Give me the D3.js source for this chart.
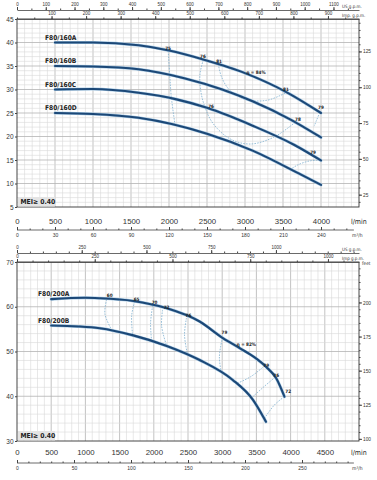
<!DOCTYPE html>
<html>
<head>
<meta charset="utf-8">
<script src="https://cdn.jsdelivr.net/npm/d3@7"></script>
<style>
  body { margin: 0; background: #fff; }
  svg { display: block; font-family: "Liberation Sans Narrow", "DejaVu Sans", sans-serif; font-stretch: condensed; }
  .axis text { fill: #333; }
  .axis path, .axis line { stroke: #444; }
</style>
</head>
<body>
<script>
// ---- F80/160 (upper chart), flow in l/min, head in m
const q160A = [500, 1000, 1600, 2000, 2450, 2950, 3550, 4000];
const h160A = [40.0, 40.0, 39.4, 38.3, 36.4, 33.8, 29.4, 25.0];
const q160B = [500, 1000, 1600, 2200, 2700, 3100, 3600, 4000];
const h160B = [35.0, 34.9, 34.3, 32.4, 30.0, 27.5, 23.6, 19.8];
const q160C = [500, 1000, 1600, 2100, 2500, 3100, 3650, 4000];
const h160C = [30.0, 30.1, 29.3, 27.9, 26.1, 22.3, 18.2, 14.9];
const q160D = [500, 1000, 1600, 2500, 3100, 3700, 4000];
const h160D = [25.0, 24.8, 24.0, 20.6, 17.0, 12.2, 9.7];
const names160 = ["F80/160A", "F80/160B", "F80/160C", "F80/160D"];

// efficiency iso-lines [l/min, m]
const eff160_75 = [[1990, 38.2], [2010, 33.0], [2030, 28.5], [2080, 22.4]];
const eff160_76 = [[2451, 36.3], [2408, 33.3], [2417, 29.8], [2474, 26.2], [2583, 22.7], [2803, 19.5], [3066, 18.4], [3372, 19.8], [3636, 22.7], [3688, 23.4]];
const eff160_81 = [[2649, 35.4], [2693, 32.6], [2803, 29.8], [3022, 27.8], [3286, 27.7], [3461, 28.7], [3549, 29.4]];
const eff160_79a = [[3985, 25.1], [3940, 23.4], [3910, 22.2]];
const eff160_79c = [[3990, 15.0], [3850, 14.8], [3700, 14.0], [3600, 13.0]];
const effText160 = ["75", "76", "81", "η = 84%", "81", "79", "78", "76", "79"];
const effQ160 = [1987, 2447, 2658, 3145, 3539, 4000, 3697, 2553, 3895];
const effH160 = [38.7, 37.0, 36.0, 33.6, 30.0, 26.2, 23.6, 26.4, 16.7];

// ---- F80/200 (lower chart)
const q200A = [500, 1000, 1210, 1700, 2180, 2670, 3010, 3250, 3490, 3640, 3790, 3910];
const h200A = [61.7, 62.0, 61.9, 61.3, 59.7, 56.7, 53.0, 50.8, 48.5, 46.6, 44.0, 39.9];
const q200B = [500, 900, 1210, 1700, 2180, 2670, 3150, 3450, 3640];
const h200B = [55.8, 55.6, 55.2, 53.6, 51.3, 48.1, 43.7, 39.2, 34.3];
const names200 = ["F80/200A", "F80/200B"];

const eff200_60 = [[1310, 61.6], [1285, 58.4], [1385, 54.8]];
const eff200_65 = [[1720, 61.1], [1676, 58.0], [1691, 53.6]];
const eff200_70 = [[1983, 60.2], [1953, 56.4], [1968, 52.3]];
const eff200_72 = [[2128, 59.3], [2114, 55.7], [2187, 51.3]];
const eff200_76 = [[2478, 57.5], [2449, 53.7], [2493, 49.3]];
const eff200_79 = [[3003, 53.1], [2959, 48.8], [2988, 45.2]];
const eff200_79r = [[3620, 46.8], [3420, 44.4], [3207, 42.8]];
const eff200_76r = [[3770, 44.2], [3600, 42.0], [3426, 39.6]];
const eff200_72r = [[3907, 39.9], [3760, 38.0], [3615, 35.0]];
const effText200 = ["60", "65", "70", "72", "76", "79", "η = 82%", "79", "76", "72"];
const effQ200 = [1356, 1749, 2012, 2187, 2507, 3032, 3353, 3644, 3790, 3965];
const effH200 = [62.6, 61.6, 60.9, 59.8, 58.0, 54.2, 51.7, 47.0, 44.6, 41.0];

// tick labels
const flowTicks160 = [0, 500, 1000, 1500, 2000, 2500, 3000, 3500, 4000];
const flowTicks200 = [0, 500, 1000, 1500, 2000, 2500, 3000, 3500, 4000, 4500];
const m3hTicks160 = [0, 30, 60, 90, 120, 150, 180, 210, 240];
const m3hTicks200 = [0, 50, 100, 150, 200, 250];
const usTicks160 = [0, 100, 200, 300, 400, 500, 600, 700, 800, 900, 1000, 1100];
const impTicks160 = [100, 200, 300, 400, 500, 600, 700, 800, 900];
const usTicks200 = [0, 250, 500, 750, 1000];
const impTicks200 = [0, 250, 500, 750, 1000];
const headTicks160 = [5, 10, 15, 20, 25, 30, 35, 40, 45];
const headTicks200 = [30, 40, 50, 60, 70];
const feetTicks160 = [25, 50, 75, 100, 125];
const feetTicks200 = [100, 125, 150, 175, 200];

const US = 3.78541, IMP = 4.54609, M3H = 1000 / 60, FT = 3.28084;
const X0 = 17, X1 = 359;
const fmt = d3.format("d");

const svg = d3.select("body").append("svg").attr("width", 377).attr("height", 480);

function drawPanel(p) {
  const g = svg.append("g");
  const x = d3.scaleLinear().domain([0, p.qMax]).range([X0, X1]);
  const y = d3.scaleLinear().domain([p.hMin, p.hMax]).range([p.yBot, p.yTop]);

  // grid
  g.append("g").selectAll("line").data(d3.range(100, p.qMax, 100)).join("line")
    .attr("x1", d => x(d)).attr("x2", d => x(d))
    .attr("y1", p.yTop).attr("y2", p.yBot)
    .attr("stroke", d => d % 500 === 0 ? "#b4b4b4" : "#d8d8d8")
    .attr("stroke-width", d => d % 500 === 0 ? 0.8 : 0.6);
  const hLines = d3.range(1, Math.round((p.hMax - p.hMin) / p.hMinor)).map(i => p.hMin + i * p.hMinor);
  g.append("g").selectAll("line").data(hLines).join("line")
    .attr("x1", X0).attr("x2", X1)
    .attr("y1", d => y(d)).attr("y2", d => y(d))
    .attr("stroke", d => Math.abs(d % p.hMajor) < 1e-6 ? "#b4b4b4" : "#d8d8d8")
    .attr("stroke-width", d => Math.abs(d % p.hMajor) < 1e-6 ? 0.8 : 0.6);

  // frame
  g.append("rect").attr("x", X0).attr("y", p.yTop).attr("width", X1 - X0).attr("height", p.yBot - p.yTop)
    .attr("fill", "none").attr("stroke", "#333").attr("stroke-width", 0.9);

  // head axis (m), left
  g.append("g").attr("class", "axis").attr("transform", `translate(${X0},0)`)
    .call(d3.axisLeft(y).tickValues(p.headTicks).tickSize(2).tickPadding(1.5).tickSizeOuter(0).tickFormat(fmt))
    .call(a => a.select(".domain").remove())
    .selectAll("text").attr("font-size", 6.5);

  // feet axis, right
  const ft = d3.scaleLinear().domain([p.hMin * FT, p.hMax * FT]).range([p.yBot, p.yTop]);
  const ftMinor = d3.range(Math.ceil(p.hMin * FT / 5) * 5, p.hMax * FT, 5);
  g.append("g").attr("class", "axis").attr("transform", `translate(${X1},0)`)
    .call(d3.axisRight(ft).tickValues(ftMinor).tickSize(1.5).tickFormat(""))
    .call(a => a.select(".domain").remove());
  g.append("g").attr("class", "axis").attr("transform", `translate(${X1},0)`)
    .call(d3.axisRight(ft).tickValues(p.feetTicks).tickSize(3).tickPadding(1).tickFormat(fmt))
    .call(a => a.select(".domain").remove())
    .selectAll("text").attr("font-size", 4.8);
  if (p.feetLabel) {
    g.append("text").attr("x", 362).attr("y", p.yTop + 3).attr("font-size", 4.8).attr("fill", "#333").text("feet");
  }

  // US g.p.m. and Imp g.p.m. axes on top
  const us = d3.scaleLinear().domain([0, p.qMax / US]).range([X0, X1]);
  const imp = d3.scaleLinear().domain([0, p.qMax / IMP]).range([X0, X1]);
  [[us, p.usY, p.usTicks, "US g.p.m."], [imp, p.yTop, p.impTicks, p.impName]].forEach(([s, yy, ticks, name]) => {
    g.append("g").attr("class", "axis").attr("transform", `translate(0,${yy})`)
      .call(d3.axisTop(s).tickValues(d3.range(0, s.domain()[1], 50)).tickSize(1.5).tickSizeOuter(0).tickFormat(""))
      .call(a => a.select(".domain").attr("stroke-width", 0.8));
    g.append("g").attr("class", "axis").attr("transform", `translate(0,${yy})`)
      .call(d3.axisTop(s).tickValues(ticks).tickSize(3).tickPadding(0.8).tickSizeOuter(0).tickFormat(fmt))
      .call(a => a.select(".domain").remove())
      .selectAll("text").attr("font-size", 4.5);
    g.append("text").attr("x", 342).attr("y", yy - 2.5).attr("font-size", 4.5).attr("fill", "#333").text(name);
  });

  // l/min labels
  g.append("g").attr("class", "axis").attr("transform", `translate(0,${p.flowY})`)
    .call(d3.axisBottom(x).tickValues(p.flowTicks).tickSize(0).tickPadding(0).tickFormat(fmt))
    .call(a => a.select(".domain").remove())
    .selectAll("text").attr("font-size", 7.8).attr("fill", "#222");
  g.append("text").attr("x", 351).attr("y", p.flowY + 5.6).attr("font-size", 7).attr("fill", "#222").text("l/min");

  // m3/h axis
  const m3 = d3.scaleLinear().domain([0, p.qMax / M3H]).range([X0, X1]);
  g.append("g").attr("class", "axis").attr("transform", `translate(0,${p.m3Y})`)
    .call(d3.axisBottom(m3).tickValues(d3.range(0, m3.domain()[1] - 5, 10)).tickSize(-1.5).tickSizeOuter(0).tickFormat(""))
    .call(a => a.select(".domain").attr("d", `M${X0},0H${x(p.qMax * 0.985)}`).attr("stroke-width", 0.8));
  g.append("g").attr("class", "axis").attr("transform", `translate(0,${p.m3Y})`)
    .call(d3.axisBottom(m3).tickValues(p.m3Ticks).tickSize(-3).tickPadding(3).tickFormat(fmt))
    .call(a => a.select(".domain").remove())
    .selectAll("text").attr("font-size", 5);
  g.append("text").attr("x", 352).attr("y", p.m3Y + 7).attr("font-size", 5).attr("fill", "#333").text("m³/h");

  // efficiency iso-lines
  const effLine = d3.line().x(d => x(d[0])).y(d => y(d[1])).curve(d3.curveCatmullRom);
  g.append("g").selectAll("path").data(p.effLines).join("path")
    .attr("d", effLine).attr("fill", "none")
    .attr("stroke", "#7fb0cf").attr("stroke-width", 0.8).attr("stroke-dasharray", "1.6,1.2");

  // pump curves
  const curve = d3.line().x(d => x(d.q)).y(d => y(d.h)).curve(d3.curveMonotoneX);
  p.curves.forEach(c => {
    const pts = c.q.map((q, i) => ({ q, h: c.h[i] }));
    g.append("path").attr("d", curve(pts)).attr("fill", "none")
      .attr("stroke", "#a6c8e3").attr("stroke-width", 3.1).attr("stroke-linecap", "round");
    g.append("path").attr("d", curve(pts)).attr("fill", "none")
      .attr("stroke", "#1c4877").attr("stroke-width", 2.1).attr("stroke-linecap", "round");
    g.append("text").attr("x", 45 - p.nameShift).attr("y", y(c.h[0]) - 3)
      .attr("font-size", 6.6).attr("font-weight", "bold").attr("fill", "#222").text(c.name);
  });

  // efficiency labels
  g.append("g").selectAll("text").data(p.effText).join("text")
    .attr("x", (d, i) => x(p.effQ[i])).attr("y", (d, i) => y(p.effH[i]))
    .attr("dy", "0.35em").attr("text-anchor", "middle")
    .attr("font-size", 4.6).attr("font-weight", "bold").attr("fill", "#222").text(d => d);

  // MEI box
  g.append("rect").attr("x", X0 + 1).attr("y", p.yBot - 10).attr("width", 37).attr("height", 9.5).attr("fill", "#e4e4e4");
  g.append("text").attr("x", X0 + 3.5).attr("y", p.yBot - 2.8).attr("font-size", 6.8).attr("font-weight", "bold")
    .attr("fill", "#222").text("MEI≥ 0.40");
}

drawPanel({
  qMax: 4500, hMin: 5, hMax: 45, hMinor: 1, hMajor: 5, yTop: 19, yBot: 207,
  headTicks: headTicks160, feetTicks: feetTicks160, feetLabel: false,
  usY: 10, usTicks: usTicks160, impTicks: impTicks160, impName: "Imp. g.p.m.",
  flowY: 218, flowTicks: flowTicks160, m3Y: 230, m3Ticks: m3hTicks160,
  curves: [
    { name: names160[0], q: q160A, h: h160A },
    { name: names160[1], q: q160B, h: h160B },
    { name: names160[2], q: q160C, h: h160C },
    { name: names160[3], q: q160D, h: h160D }
  ],
  nameShift: 0,
  effLines: [eff160_75, eff160_76, eff160_81, eff160_79a, eff160_79c],
  effText: effText160, effQ: effQ160, effH: effH160
});

drawPanel({
  qMax: 5000, hMin: 30, hMax: 70, hMinor: 2, hMajor: 10, yTop: 262, yBot: 441,
  headTicks: headTicks200, feetTicks: feetTicks200, feetLabel: true,
  usY: 253, usTicks: usTicks200, impTicks: impTicks200, impName: "Imp g.p.m.",
  flowY: 449, flowTicks: flowTicks200, m3Y: 463, m3Ticks: m3hTicks200,
  curves: [
    { name: names200[0], q: q200A, h: h200A },
    { name: names200[1], q: q200B, h: h200B }
  ],
  nameShift: 7,
  effLines: [eff200_60, eff200_65, eff200_70, eff200_72, eff200_76, eff200_79, eff200_79r, eff200_76r, eff200_72r],
  effText: effText200, effQ: effQ200, effH: effH200
});
</script>
</body>
</html>
